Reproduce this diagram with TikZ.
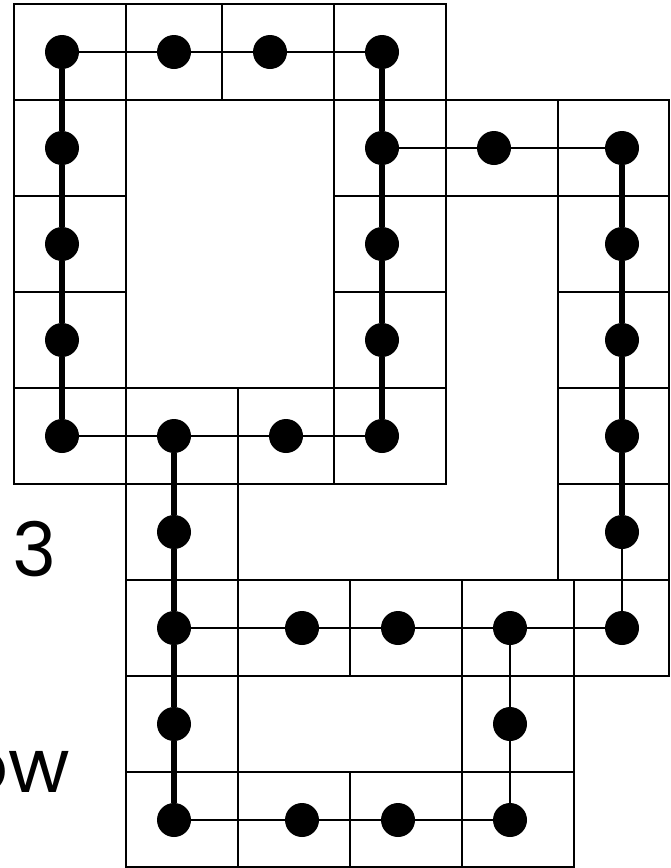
\documentclass[tikz,border=0pt]{standalone}
\usepackage{fontspec}
\setmainfont{Poppins}
\usetikzlibrary{positioning}

\begin{document}
\begin{tikzpicture}[
    x=1pt, y=-1pt,
    cell/.style={draw=black, line width=2.4pt},
    dot/.style={circle, fill=black, inner sep=0pt, minimum size=34pt},
    bond/.style={draw=black, line width=6pt},
    link/.style={draw=black, line width=2.4pt},
    label/.style={font=\fontsize{75}{80}\selectfont, inner sep=0pt}
]
    \useasboundingbox (0,0) rectangle (670,868);

    % cells
    \foreach \xa/\ya/\xb/\yb in {
        14/4/126/100, 126/4/222/100, 222/4/334/100, 334/4/446/100,
        14/100/126/196, 14/196/126/292, 14/292/126/388, 14/388/126/484,
        334/100/446/196, 334/196/446/292, 334/292/446/388, 334/388/446/484,
        126/388/238/484, 238/388/334/484,
        446/100/558/196, 558/100/669/196, 558/196/669/292, 558/292/669/388,
        558/388/669/484, 558/484/669/580,
        126/484/238/580,
        126/580/238/676, 238/580/350/676, 350/580/462/676, 462/580/574/676, 574/580/669/676,
        126/676/238/772, 462/676/574/772,
        126/772/238/867, 238/772/350/867, 350/772/462/867, 462/772/574/867}
        \draw[cell] (\xa,\ya) rectangle (\xb,\yb);

    % dots
    \node[dot] (n11) at (62,52) {};
    \node[dot] (n21) at (174,52) {};
    \node[dot] (n31) at (270,52) {};
    \node[dot] (n41) at (382,52) {};
    \node[dot] (n12) at (62,148) {};
    \node[dot] (n13) at (62,244) {};
    \node[dot] (n14) at (62,340) {};
    \node[dot] (n15) at (62,436) {};
    \node[dot] (n42) at (382,148) {};
    \node[dot] (n43) at (382,244) {};
    \node[dot] (n44) at (382,340) {};
    \node[dot] (n45) at (382,436) {};
    \node[dot] (n25) at (174,436) {};
    \node[dot] (n35) at (286,436) {};
    \node[dot] (n52) at (494,148) {};
    \node[dot] (n62) at (622,148) {};
    \node[dot] (n63) at (622,244) {};
    \node[dot] (n64) at (622,340) {};
    \node[dot] (n65) at (622,436) {};
    \node[dot] (n66) at (622,532) {};
    \node[dot] (n67) at (622,628) {};
    \node[dot] (n26) at (174,532) {};
    \node[dot] (n27) at (174,628) {};
    \node[dot] (n37) at (302,628) {};
    \node[dot] (n47) at (398,628) {};
    \node[dot] (n57) at (510,628) {};
    \node[dot] (n28) at (174,724) {};
    \node[dot] (n58) at (510,724) {};
    \node[dot] (n29) at (174,820) {};
    \node[dot] (n39) at (302,820) {};
    \node[dot] (n49) at (398,820) {};
    \node[dot] (n59) at (510,820) {};

    % thick bonds
    \path[bond] (n11) -- (n12) -- (n13) -- (n14) -- (n15);
    \path[bond] (n41) -- (n42) -- (n43) -- (n44) -- (n45);
    \path[bond] (n62) -- (n63) -- (n64) -- (n65) -- (n66);
    \path[bond] (n25) -- (n26) -- (n27) -- (n28) -- (n29);

    % thin links
    \path[link] (n11) -- (n21) -- (n31) -- (n41);
    \path[link] (n42) -- (n52) -- (n62);
    \path[link] (n15) -- (n25) -- (n35) -- (n45);
    \path[link] (n27) -- (n37) -- (n47) -- (n57) -- (n67);
    \path[link] (n66) -- (n67);
    \path[link] (n57) -- (n58) -- (n59);
    \path[link] (n29) -- (n39) -- (n49) -- (n59);

    % labels
    \node[label, anchor=base] (num) at (35,576) {3};
    \node[label, anchor=base east] (word) at (70,792) {ow};
\end{tikzpicture}
\end{document}
